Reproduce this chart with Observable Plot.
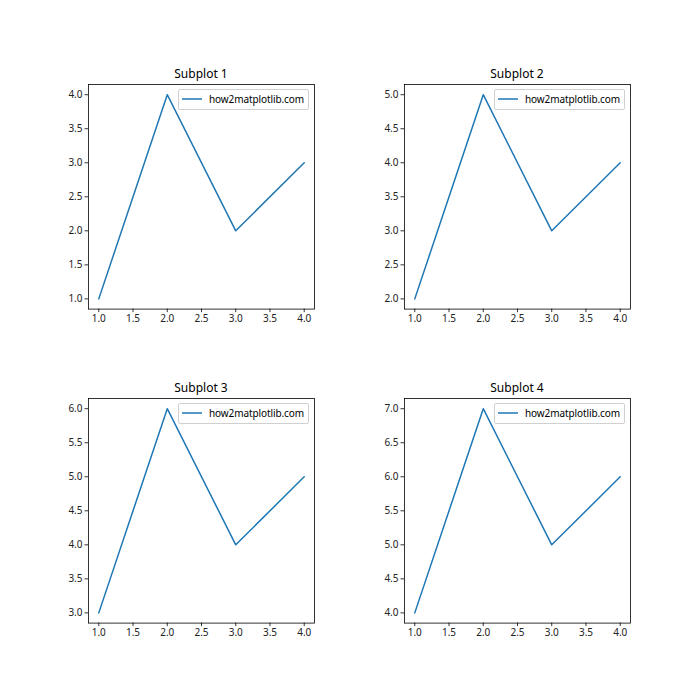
<!DOCTYPE html>
<html>
<head>
<meta charset="utf-8">
<script src="https://cdn.jsdelivr.net/npm/d3@7"></script>
<script src="https://cdn.jsdelivr.net/npm/@observablehq/plot@0.6"></script>
<style>
  html, body { margin: 0; padding: 0; background: #fff; }
  #fig { position: relative; width: 700px; height: 700px; background: #fff; font-family: "Noto Sans", "DejaVu Sans", sans-serif; }
  .panel { position: absolute; }
  .title { position: absolute; font-size: 12px; color: #000; text-align: center; white-space: nowrap; }
  .legend { position: absolute; box-sizing: border-box; height: 21px; border: 1px solid #d0d0d0; border-radius: 2px; background: rgba(255,255,255,0.8); display: flex; align-items: center; padding: 0 4px 0 3px; font-size: 10px; color: #000; white-space: nowrap; letter-spacing: -0.1px; }
  .legend svg { margin-right: 7px; }
</style>
</head>
<body>
<div id="fig"></div>
<script>
// ---- data ----
const xValues = [1, 2, 3, 4];
const series1 = [1, 4, 2, 3];
const series2 = [2, 5, 3, 4];
const series3 = [3, 6, 4, 5];
const series4 = [4, 7, 5, 6];
const titles = ["Subplot 1", "Subplot 2", "Subplot 3", "Subplot 4"];
const legendLabel = "how2matplotlib.com";
const xTicks = [1.0, 1.5, 2.0, 2.5, 3.0, 3.5, 4.0];
const yTicks1 = [1.0, 1.5, 2.0, 2.5, 3.0, 3.5, 4.0];
const yTicks2 = [2.0, 2.5, 3.0, 3.5, 4.0, 4.5, 5.0];
const yTicks3 = [3.0, 3.5, 4.0, 4.5, 5.0, 5.5, 6.0];
const yTicks4 = [4.0, 4.5, 5.0, 5.5, 6.0, 6.5, 7.0];

const allSeries = [series1, series2, series3, series4];
const allYTicks = [yTicks1, yTicks2, yTicks3, yTicks4];
const color = "#1f77b4";

// ---- layout (matplotlib-like) ----
const frameLefts = [88, 404];
const frameTops = [84, 398.4];
const frameW = 226, frameH = 224.6;
const mL = 45, mR = 10, mT = 10, mB = 30;

const fig = document.getElementById("fig");
const fmt = d3.format(".1f");

allSeries.forEach((ys, i) => {
  const row = Math.floor(i / 2), col = i % 2;
  const fx = frameLefts[col], fy = frameTops[row];
  const data = xValues.map((x, k) => ({x, y: ys[k]}));
  const xmin = d3.min(xValues), xmax = d3.max(xValues);
  const ymin = d3.min(ys), ymax = d3.max(ys);
  const xpad = (xmax - xmin) * 0.05, ypad = (ymax - ymin) * 0.05;

  const chart = Plot.plot({
    width: mL + frameW + mR,
    height: mT + frameH + mB,
    marginLeft: mL, marginRight: mR, marginTop: mT, marginBottom: mB,
    style: {fontSize: "10px", fontFamily: "'Noto Sans', 'DejaVu Sans', sans-serif", color: "#000", background: "transparent", overflow: "visible"},
    x: {domain: [xmin - xpad, xmax + xpad]},
    y: {domain: [ymin - ypad, ymax + ypad]},
    marks: [
      Plot.line(data, {x: "x", y: "y", stroke: color, strokeWidth: 1.5}),
      Plot.frame({stroke: "#000", strokeWidth: 0.8}),
      Plot.axisX({ticks: xTicks, tickFormat: fmt, tickSize: 3.5, tickPadding: 2.5, label: null, stroke: "#000", strokeWidth: 0.8, fill: "#222"}),
      Plot.axisY({ticks: allYTicks[i], tickFormat: fmt, tickSize: 3.5, tickPadding: 2.5, label: null, stroke: "#000", strokeWidth: 0.8, fill: "#222"})
    ]
  });
  chart.classList.add("panel");
  chart.style.left = (fx - mL) + "px";
  chart.style.top = (fy - mT) + "px";
  fig.appendChild(chart);

  const t = document.createElement("div");
  t.className = "title";
  t.textContent = titles[i];
  t.style.left = fx + "px";
  t.style.width = frameW + "px";
  t.style.top = (fy - 19) + "px";
  fig.appendChild(t);

  const lg = document.createElement("div");
  lg.className = "legend";
  lg.innerHTML = `<svg width="20" height="4"><line x1="0" y1="2" x2="20" y2="2" stroke="${color}" stroke-width="1.5"/></svg><span></span>`;
  lg.querySelector("span").textContent = legendLabel;
  fig.appendChild(lg);
  const w = lg.getBoundingClientRect().width;
  lg.style.left = (fx + frameW - 5 - w) + "px";
  lg.style.top = (fy + 4.5) + "px";
});
</script>
</body>
</html>
